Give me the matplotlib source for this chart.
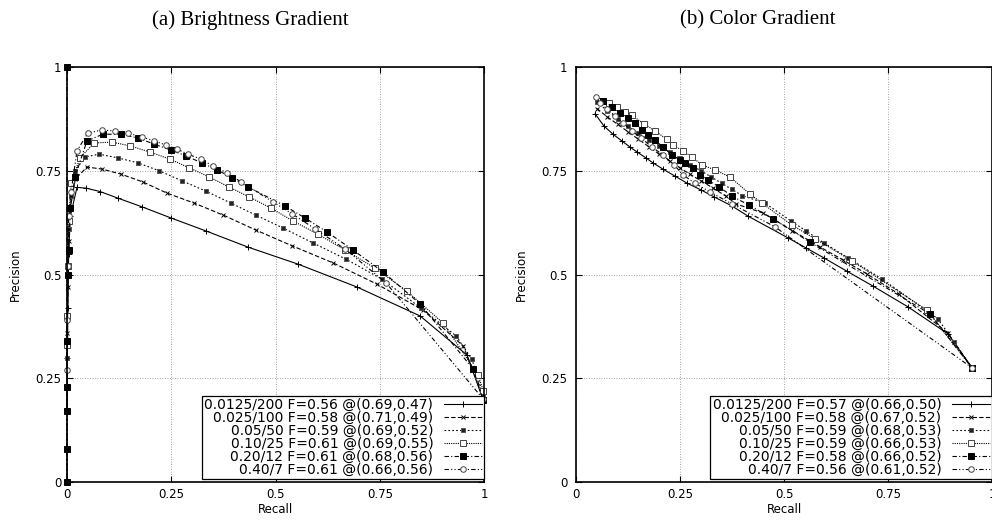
import matplotlib
matplotlib.use('Agg')
import matplotlib.pyplot as plt

# --- data ---
names = ['0.0125/200', '0.025/100', '0.05/50', '0.10/25', '0.20/12', '0.40/7']
f_bright = ['F=0.56 @(0.69,0.47)', 'F=0.58 @(0.71,0.49)', 'F=0.59 @(0.69,0.52)',
            'F=0.61 @(0.69,0.55)', 'F=0.61 @(0.68,0.56)', 'F=0.61 @(0.66,0.56)']
f_color = ['F=0.57 @(0.66,0.50)', 'F=0.58 @(0.67,0.52)', 'F=0.59 @(0.68,0.53)',
           'F=0.59 @(0.66,0.53)', 'F=0.58 @(0.66,0.52)', 'F=0.56 @(0.61,0.52)']

# (a) brightness gradient
b1_r = [0.0, 0.001, 0.002, 0.004, 0.008, 0.024, 0.046, 0.079, 0.122, 0.18, 0.25, 0.333, 0.434, 0.554, 0.695, 0.847, 0.959, 0.998]
b1_p = [0.17, 0.30, 0.42, 0.55, 0.64, 0.71, 0.708, 0.70, 0.684, 0.663, 0.636, 0.605, 0.566, 0.525, 0.47, 0.40, 0.306, 0.198]
b2_r = [0.0, 0.001, 0.002, 0.004, 0.008, 0.02, 0.048, 0.084, 0.129, 0.182, 0.24, 0.305, 0.375, 0.453, 0.54, 0.638, 0.743, 0.854, 0.95, 0.998]
b2_p = [0.27, 0.36, 0.47, 0.58, 0.66, 0.73, 0.759, 0.754, 0.742, 0.723, 0.696, 0.672, 0.643, 0.607, 0.569, 0.528, 0.477, 0.414, 0.328, 0.21]
b3_r = [0.0, 0.001, 0.002, 0.004, 0.01, 0.02, 0.043, 0.077, 0.122, 0.17, 0.221, 0.275, 0.333, 0.393, 0.453, 0.518, 0.59, 0.669, 0.755, 0.849, 0.933, 0.971, 0.998]
b3_p = [0.30, 0.40, 0.50, 0.61, 0.69, 0.75, 0.783, 0.79, 0.781, 0.769, 0.75, 0.726, 0.701, 0.672, 0.643, 0.612, 0.576, 0.537, 0.489, 0.419, 0.352, 0.296, 0.21]
b4_r = [0.0, 0.001, 0.002, 0.004, 0.01, 0.031, 0.065, 0.108, 0.151, 0.199, 0.247, 0.293, 0.341, 0.388, 0.437, 0.489, 0.542, 0.602, 0.667, 0.739, 0.815, 0.902, 0.986, 0.998]
b4_p = [0.33, 0.40, 0.52, 0.63, 0.72, 0.781, 0.817, 0.819, 0.81, 0.795, 0.778, 0.757, 0.735, 0.711, 0.687, 0.66, 0.629, 0.597, 0.559, 0.515, 0.46, 0.383, 0.258, 0.22]
b5_r = [0.0, 0.0, 0.0, 0.0, 0.0005, 0.001, 0.002, 0.004, 0.008, 0.019, 0.048, 0.086, 0.129, 0.17, 0.209, 0.249, 0.285, 0.323, 0.36, 0.396, 0.434, 0.523, 0.571, 0.624, 0.686, 0.758, 0.847, 0.974, 0.998]
b5_p = [1.0, 0.0, 0.08, 0.17, 0.23, 0.34, 0.50, 0.56, 0.66, 0.735, 0.822, 0.838, 0.838, 0.829, 0.814, 0.80, 0.786, 0.769, 0.752, 0.733, 0.711, 0.665, 0.636, 0.602, 0.559, 0.506, 0.429, 0.272, 0.198]
b6_r = [0.0, 0.001, 0.002, 0.004, 0.01, 0.024, 0.05, 0.084, 0.115, 0.146, 0.18, 0.209, 0.237, 0.264, 0.29, 0.321, 0.35, 0.384, 0.417, 0.494, 0.54, 0.595, 0.667, 0.765, 0.998]
b6_p = [0.27, 0.39, 0.52, 0.64, 0.70, 0.798, 0.841, 0.848, 0.846, 0.841, 0.831, 0.822, 0.812, 0.802, 0.79, 0.778, 0.761, 0.745, 0.723, 0.675, 0.646, 0.61, 0.561, 0.48, 0.20]

# (b) color gradient
c1_r = [0.046, 0.067, 0.089, 0.11, 0.13, 0.147, 0.168, 0.185, 0.209, 0.238, 0.267, 0.30, 0.332, 0.375, 0.413, 0.51, 0.553, 0.596, 0.651, 0.714, 0.798, 0.894, 0.952]
c1_p = [0.887, 0.858, 0.838, 0.822, 0.807, 0.795, 0.781, 0.769, 0.754, 0.737, 0.72, 0.704, 0.687, 0.665, 0.641, 0.588, 0.564, 0.54, 0.508, 0.472, 0.422, 0.357, 0.275]
c2_r = [0.05, 0.075, 0.1, 0.125, 0.15, 0.175, 0.2, 0.225, 0.25, 0.275, 0.3, 0.33, 0.36, 0.385, 0.45, 0.52, 0.587, 0.642, 0.70, 0.776, 0.894, 0.952]
c2_p = [0.90, 0.88, 0.862, 0.844, 0.826, 0.808, 0.79, 0.773, 0.757, 0.741, 0.726, 0.708, 0.689, 0.67, 0.648, 0.606, 0.566, 0.535, 0.501, 0.453, 0.359, 0.275]
c3_r = [0.05, 0.075, 0.1, 0.125, 0.15, 0.175, 0.2, 0.225, 0.25, 0.275, 0.3, 0.325, 0.35, 0.375, 0.4, 0.454, 0.517, 0.553, 0.596, 0.654, 0.736, 0.87, 0.909, 0.952]
c3_p = [0.915, 0.895, 0.875, 0.857, 0.84, 0.825, 0.81, 0.795, 0.78, 0.765, 0.75, 0.735, 0.72, 0.705, 0.69, 0.672, 0.629, 0.605, 0.576, 0.54, 0.489, 0.393, 0.337, 0.275]
c4_r = [0.06, 0.079, 0.098, 0.118, 0.134, 0.163, 0.19, 0.218, 0.233, 0.257, 0.279, 0.303, 0.334, 0.37, 0.418, 0.447, 0.519, 0.575, 0.663, 0.844, 0.952]
c4_p = [0.918, 0.913, 0.904, 0.892, 0.884, 0.863, 0.846, 0.826, 0.812, 0.798, 0.783, 0.764, 0.752, 0.735, 0.694, 0.672, 0.619, 0.586, 0.533, 0.414, 0.275]
c5_r = [0.065, 0.087, 0.106, 0.125, 0.142, 0.159, 0.173, 0.19, 0.209, 0.231, 0.25, 0.262, 0.281, 0.298, 0.317, 0.344, 0.375, 0.416, 0.474, 0.562, 0.851, 0.952]
c5_p = [0.918, 0.904, 0.89, 0.877, 0.865, 0.848, 0.836, 0.824, 0.807, 0.788, 0.776, 0.769, 0.757, 0.74, 0.728, 0.711, 0.689, 0.667, 0.634, 0.578, 0.405, 0.275]
c6_r = [0.048, 0.058, 0.075, 0.094, 0.113, 0.134, 0.156, 0.183, 0.209, 0.236, 0.257, 0.286, 0.322, 0.375, 0.478, 0.952]
c6_p = [0.928, 0.913, 0.899, 0.882, 0.865, 0.846, 0.829, 0.807, 0.788, 0.764, 0.74, 0.72, 0.699, 0.67, 0.615, 0.275]

# line styles in gnuplot fashion
styles = [
    dict(linestyle='-', marker='+', mfc='k', mec='k', ms=4),
    dict(linestyle=(0, (4, 2)), marker='x', mfc='k', mec='k', ms=3.5),
    dict(linestyle=(0, (1.5, 2)), marker='s', mfc='#222222', mec='#555555', ms=3),
    dict(linestyle=(0, (1, 1)), marker='s', mfc='white', mec='#444444', ms=4),
    dict(linestyle=(0, (4, 2, 1, 2)), marker='s', mfc='k', mec='k', ms=4.5),
    dict(linestyle=(0, (4, 2, 1, 2, 1, 2)), marker='o', mfc='white', mec='#444444', ms=4),
]

bright = [(b1_r, b1_p), (b2_r, b2_p), (b3_r, b3_p), (b4_r, b4_p), (b5_r, b5_p), (b6_r, b6_p)]
color = [(c1_r, c1_p), (c2_r, c2_p), (c3_r, c3_p), (c4_r, c4_p), (c5_r, c5_p), (c6_r, c6_p)]

ticks = [0, 0.25, 0.5, 0.75, 1]
tick_labels = ['0', '0.25', '0.5', '0.75', '1']

plt.rcParams['font.family'] = ['DejaVu Sans']

fig = plt.figure(figsize=(9.92, 5.23), dpi=100)
ax_a = fig.add_axes([67 / 992, 1 - 482 / 523, 417 / 992, 415 / 523])
ax_b = fig.add_axes([576 / 992, 1 - 482 / 523, 416 / 992, 415 / 523])


def draw_panel(ax, curves, fvals, ypad):
    for (r, p), st, nm, fv in zip(curves, styles, names, fvals):
        ax.plot(r, p, color='k', lw=0.8, mew=0.7, clip_on=False,
                label=nm + ' ' + fv, **st)
    ax.set_xlim(0, 1)
    ax.set_ylim(0, 1)
    ax.set_xticks(ticks)
    ax.set_xticklabels(tick_labels)
    ax.set_yticks(ticks)
    ax.set_yticklabels(tick_labels)
    ax.tick_params(direction='in', length=4, width=0.8, labelsize=8.5,
                   top=True, right=True, pad=4)
    ax.tick_params(axis='y', pad=ypad)
    ax.grid(True, linestyle=(0, (1, 2)), color='#888888', lw=0.6)
    for s in ax.spines.values():
        s.set_linewidth(1.2)
    ax.set_xlabel('Recall', fontsize=8.5, labelpad=2)
    ax.set_ylabel('Precision', fontsize=8.5, labelpad=10)
    leg = ax.legend(loc='lower right', bbox_to_anchor=(1.0, 0.008), markerfirst=False,
                    fontsize=10, frameon=True, fancybox=False, edgecolor='k',
                    framealpha=1, handlelength=2.7, handletextpad=0.8,
                    labelspacing=-0.08, borderpad=0.15, borderaxespad=0)
    leg.get_frame().set_linewidth(0.9)


draw_panel(ax_a, bright, f_bright, 4)
draw_panel(ax_b, color, f_color, 6)

fig.text(250 / 992, 1 - 20 / 523, '(a) Brightness Gradient', ha='center', va='center',
         fontsize=15, family='Liberation Serif')
fig.text(758 / 992, 1 - 20 / 523, '(b) Color Gradient', ha='center', va='center',
         fontsize=15, family='Liberation Serif')

fig.savefig('out.png', dpi=100)
